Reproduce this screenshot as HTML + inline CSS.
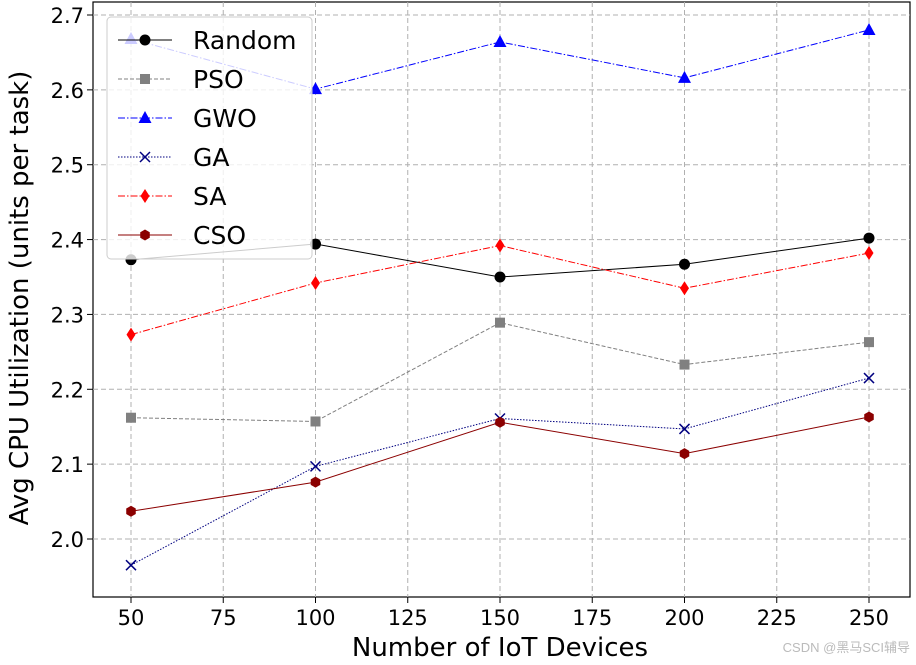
<!DOCTYPE html>
<html><head><meta charset="utf-8"><style>
body{margin:0;background:#fff;width:916px;height:665px;overflow:hidden}
svg{display:block;font-family:"DejaVu Sans","Liberation Sans",sans-serif}
</style></head><body>
<svg id="chart" width="916" height="665">
<rect x="93" y="2" width="817" height="595" fill="#fff" stroke="#000" stroke-width="1.2"/>
<g id="grid"></g>
<g id="axes"></g>
<g id="series"></g>
<text x="500" y="656" text-anchor="middle" font-size="26">Number of IoT Devices</text>
<text transform="translate(28,298) rotate(-90)" text-anchor="middle" font-size="26">Avg CPU Utilization (units per task)</text>
<g id="legend"></g>
<text x="910" y="652" text-anchor="end" font-size="13" fill="#bbb" font-family="Liberation Sans, Noto Sans CJK SC, sans-serif">CSDN @黑马SCI辅导</text>
</svg>
<script>
const categories=[50,100,150,200,250];
const seriesNames=["Random","PSO","GWO","GA","SA","CSO"];
const randomVals=[2.373,2.394,2.350,2.367,2.402];
const psoVals=[2.162,2.157,2.289,2.233,2.263];
const gwoVals=[2.668,2.601,2.664,2.616,2.680];
const gaVals=[1.965,2.097,2.161,2.147,2.215];
const saVals=[2.273,2.342,2.392,2.335,2.382];
const csoVals=[2.037,2.076,2.156,2.114,2.163];
const xTicks=[50,75,100,125,150,175,200,225,250];
const yTicks=[2.0,2.1,2.2,2.3,2.4,2.5,2.6,2.7];
const NS="http://www.w3.org/2000/svg";
const xs=v=>131+(v-50)*(869-131)/200;
const ys=v=>539-(v-2.0)*(539-15)/0.7;
function mk(tag,attrs,parent){const e=document.createElementNS(NS,tag);for(const k in attrs)e.setAttribute(k,attrs[k]);parent.appendChild(e);return e;}
const grid=document.getElementById('grid'),axes=document.getElementById('axes'),ser=document.getElementById('series'),leg=document.getElementById('legend');
xTicks.forEach(t=>{const x=xs(t);
const g=mk('line',{x1:x,x2:x,y1:2,y2:597,stroke:'#b0b0b0','stroke-dasharray':'5,3','stroke-width':1},grid);

mk('line',{x1:x,x2:x,y1:597,y2:603,stroke:'#000'},axes);
const l=mk('text',{x:x,y:625,'text-anchor':'middle','font-size':21},axes);l.textContent=t;
});
yTicks.forEach(t=>{const y=ys(t);
const g=mk('line',{x1:93,x2:910,y1:y,y2:y,stroke:'#b0b0b0','stroke-dasharray':'5,3','stroke-width':1},grid);

mk('line',{x1:87,x2:93,y1:y,y2:y,stroke:'#000'},axes);
const l=mk('text',{x:84,y:y+8,'text-anchor':'end','font-size':21},axes);l.textContent=t.toFixed(1);
});
const styles=[
{vals:randomVals,c:'#000',d:'',m:'circle'},
{vals:psoVals,c:'#808080',d:'4,2',m:'square'},
{vals:gwoVals,c:'#0000ff',d:'7,2,1.5,2',m:'tri'},
{vals:gaVals,c:'#000080',d:'1.5,1.5',m:'x'},
{vals:saVals,c:'#ff0000',d:'7,2,1.5,2',m:'diamond'},
{vals:csoVals,c:'#8b0000',d:'',m:'hex'}];
function marker(p,m,x,y,c){
if(m==='circle')return mk('circle',{cx:x,cy:y,r:5.5,fill:c},p);
if(m==='square')return mk('rect',{x:x-5,y:y-5,width:10,height:10,fill:c},p);
if(m==='tri')return mk('polygon',{points:`${x},${y-7} ${x-6.5},${y+5} ${x+6.5},${y+5}`,fill:c},p);
if(m==='diamond')return mk('polygon',{points:`${x},${y-7} ${x+4.5},${y} ${x},${y+7} ${x-4.5},${y}`,fill:c},p);
if(m==='hex'){let pts=[];for(let i=0;i<6;i++){const a=Math.PI/6+i*Math.PI/3;pts.push((x+5.5*Math.cos(a))+','+(y+5.5*Math.sin(a)));}return mk('polygon',{points:pts.join(' '),fill:c},p);}
if(m==='x')return mk('path',{d:`M${x-5},${y-5}L${x+5},${y+5}M${x-5},${y+5}L${x+5},${y-5}`,stroke:c,'stroke-width':1.5},p);}
styles.forEach((s,i)=>{
const g=mk('g',{},ser);
const pts=s.vals.map((v,j)=>xs(categories[j])+','+ys(v)).join(' ');
const pl=mk('polyline',{points:pts,fill:'none',stroke:s.c,'stroke-width':1,'stroke-dasharray':s.d},g);

s.vals.forEach((v,j)=>{const mm=marker(g,s.m,xs(categories[j]),ys(v),s.c);
});});
const box=mk('rect',{x:107,y:17,width:205,height:242,rx:4,fill:'#fff','fill-opacity':0.8,stroke:'#ccc'},leg);

styles.forEach((s,i)=>{const y=40+i*39;
const g=mk('g',{},leg);
mk('line',{x1:118,x2:172,y1:y,y2:y,stroke:s.c,'stroke-width':1,'stroke-dasharray':s.d},g);
marker(g,s.m,145,y,s.c);
const t=mk('text',{x:193,y:y+9,'font-size':25},g);t.textContent=seriesNames[i];});
</script>
</body></html>
